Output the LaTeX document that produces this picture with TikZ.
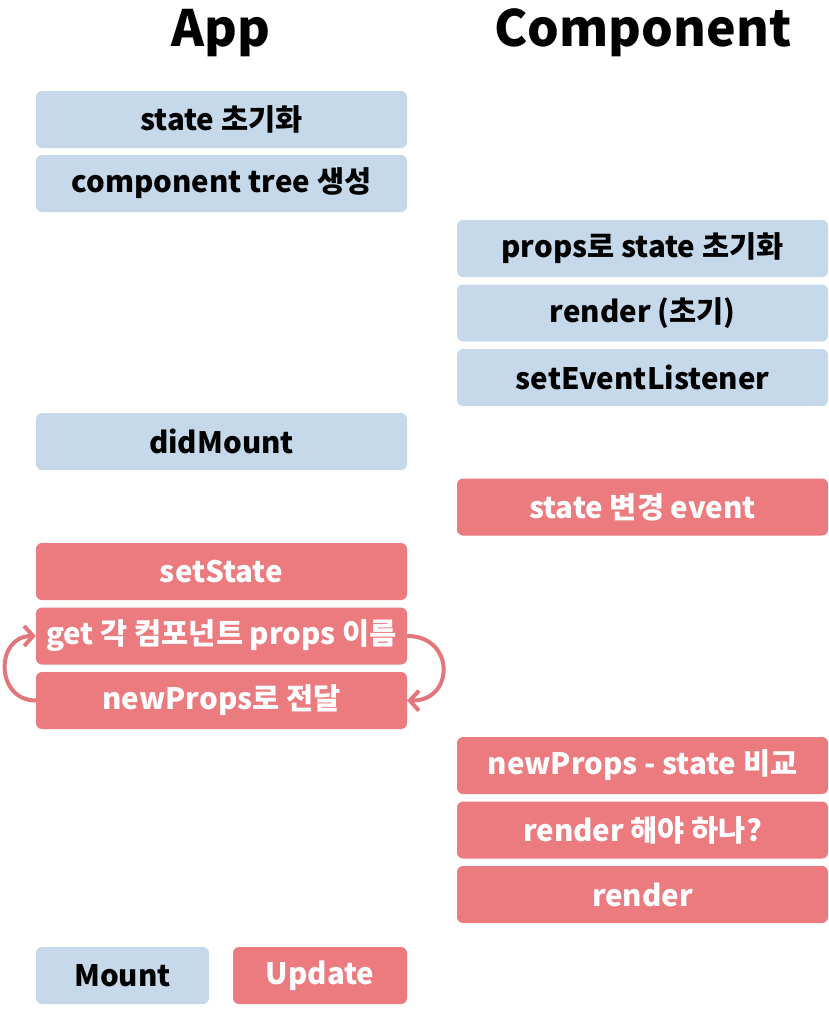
\documentclass[tikz,border=0pt]{standalone}
\usepackage{fontspec}
\setmainfont{Noto Sans CJK KR}
\usetikzlibrary{arrows.meta}
\definecolor{mblue}{HTML}{C5D9EA}
\definecolor{ured}{HTML}{EC7B80}
\definecolor{arrowred}{HTML}{E3767B}
\tikzset{
  box/.style={rectangle, rounded corners=6pt, minimum height=57pt, inner sep=0pt,
    font=\fontsize{29.5}{33}\selectfont\bfseries},
  wide/.style={minimum width=371pt},
  mountbox/.style={box, fill=mblue, text=black},
  updatebox/.style={box, fill=ured, text=white},
  title/.style={font=\fontsize{50}{56}\selectfont\bfseries, text=black, inner sep=0pt, anchor=base},
  loop/.style={draw=arrowred, line width=4pt, -{Straight Barb[length=9pt,width=20pt]}}
}
\begin{document}
\begin{tikzpicture}[x=1pt,y=-1pt]
\useasboundingbox (0,0) rectangle (829,1020);
\node[title] (tapp) at (221,46) {App};
\node[title] (tcomp) at (643,46) {Component};
% App column
\node[mountbox,wide] (a1) at (221.5,119.5) {state 초기화};
\node[mountbox,wide] (a2) at (221.5,183.5) {component tree 생성};
\node[mountbox,wide] (c1) at (642.5,248.5) {props로 state 초기화};
\node[mountbox,wide] (c2) at (642.5,313) {render (초기)};
\node[mountbox,wide] (c3) at (642.5,377.5) {setEventListener};
\node[mountbox,wide] (a3) at (221.5,441.5) {didMount};
\node[updatebox,wide] (c4) at (642.5,507) {state 변경 event};
\node[updatebox,wide] (a4) at (221.5,571.5) {setState};
\node[updatebox,wide] (a5) at (221.5,636) {get 각 컴포넌트 props 이름};
\node[updatebox,wide] (a6) at (221.5,700.5) {newProps로 전달};
\node[updatebox,wide] (c5) at (642.5,765.5) {newProps - state 비교};
\node[updatebox,wide] (c6) at (642.5,830) {render 해야 하나?};
\node[updatebox,wide] (c7) at (642.5,894.5) {render};
% legend
\node[mountbox,minimum width=173pt] (lm) at (122.5,975.5) {Mount};
\node[updatebox,minimum width=174pt] (lu) at (320,975.5) {Update};
% loop arrows
\draw[loop] (a5.east) .. controls (455,636) and (455,701) .. (a6.east);
\draw[loop] (a6.west) .. controls (-5,700.5) and (-5,636) .. (a5.west);
\end{tikzpicture}
\end{document}
